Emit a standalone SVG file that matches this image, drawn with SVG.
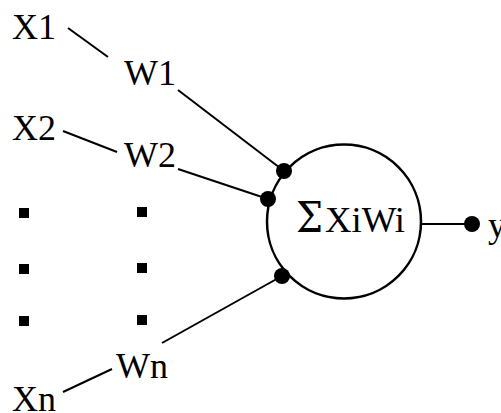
<svg xmlns="http://www.w3.org/2000/svg" width="501" height="413" viewBox="0 0 501 413">
<style>
.t{font-family:"Liberation Serif","Times New Roman",serif;font-size:36px;fill:#000}
.c{stroke:#000;stroke-width:2;fill:none}
.d{fill:#000}
</style>
<rect width="501" height="413" fill="#fff"/>
<g id="connectors">
<line class="c" x1="68" y1="28" x2="108" y2="57"/>
<line class="c" x1="178" y1="90" x2="284" y2="171"/>
<line class="c" x1="63" y1="131" x2="117" y2="152"/>
<line class="c" x1="178" y1="169" x2="268" y2="199"/>
<line class="c" x1="63" y1="392" x2="112" y2="369"/>
<line class="c" x1="162" y1="343" x2="282" y2="276"/>
<line class="c" x1="421" y1="224" x2="472" y2="224"/>
</g>
<g id="neuron">
<circle cx="344" cy="221.5" r="77" fill="#fff" stroke="#000" stroke-width="2.5"/>
<text x="296" y="232" font-family="'DejaVu Serif',serif" font-size="43" textLength="27" lengthAdjust="spacingAndGlyphs">Σ</text>
<text class="t" x="325" y="232" font-size="40" textLength="80" lengthAdjust="spacingAndGlyphs">XiWi</text>
</g>
<g id="junctions">
<circle class="d" cx="284" cy="171" r="8"/>
<circle class="d" cx="268" cy="199" r="8"/>
<circle class="d" cx="282" cy="276" r="8"/>
<circle class="d" cx="472" cy="224" r="8"/>
</g>
<g id="x1"><text class="t" x="12" y="39">X1</text></g>
<g id="w1"><text class="t" x="124" y="85">W1</text></g>
<g id="x2"><text class="t" x="12" y="140">X2</text></g>
<g id="w2"><text class="t" x="124" y="167">W2</text></g>
<g id="wn"><text class="t" x="116" y="378">Wn</text></g>
<g id="xn"><text class="t" x="12" y="411">Xn</text></g>
<g id="y"><text class="t" x="488" y="237">y</text></g>
<g id="ellipsis">
<rect class="d" x="19" y="208" width="10" height="10"/>
<rect class="d" x="137" y="207" width="10" height="10"/>
<rect class="d" x="19" y="264" width="10" height="10"/>
<rect class="d" x="137" y="263" width="10" height="10"/>
<rect class="d" x="19" y="316" width="10" height="10"/>
<rect class="d" x="137" y="315" width="10" height="10"/>
</g>
</svg>
